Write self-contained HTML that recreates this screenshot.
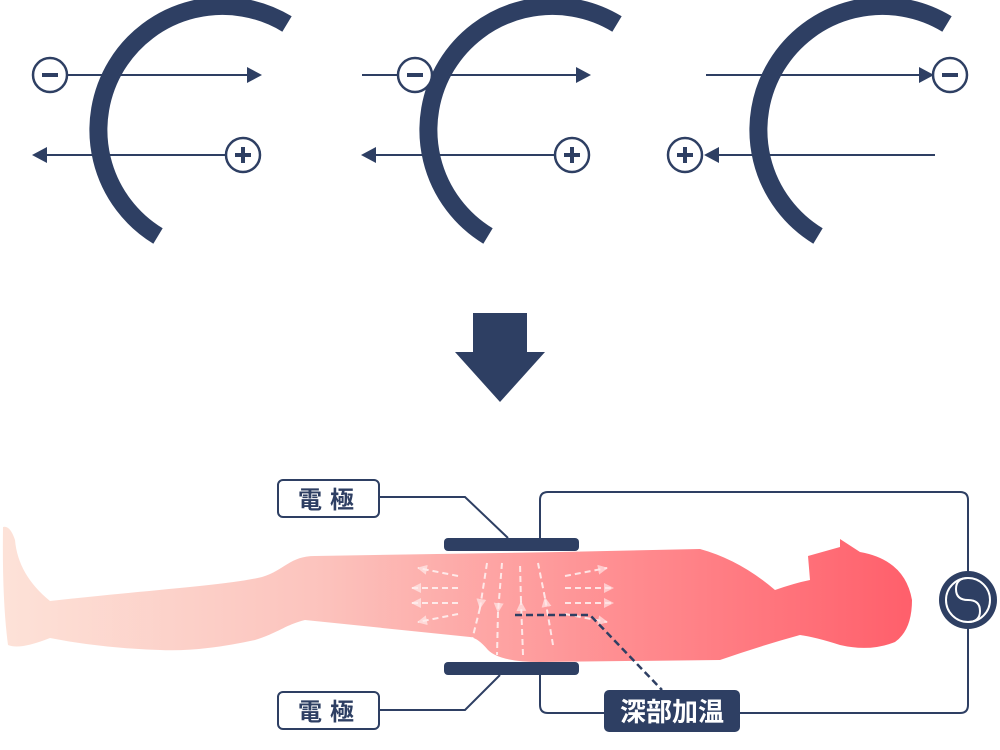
<!DOCTYPE html>
<html><head><meta charset="utf-8"><style>
html,body{margin:0;padding:0;background:#fff;width:1000px;height:750px;overflow:hidden}
svg{display:block}
text{font-family:"Liberation Sans","Noto Sans CJK JP",sans-serif;font-weight:bold}
</style></head><body>
<svg width="1000" height="750" viewBox="0 0 1000 750" xmlns="http://www.w3.org/2000/svg">
<defs>
<linearGradient id="bg" x1="0" x2="1" y1="0" y2="0">
<stop offset="0" stop-color="#fde2d8"/><stop offset="0.35" stop-color="#fcc3bd"/><stop offset="0.7" stop-color="#ff8a8e"/><stop offset="1" stop-color="#ff5f6b"/>
</linearGradient>
<marker id="ah" markerWidth="10" markerHeight="10" refX="9" refY="5" orient="auto" markerUnits="userSpaceOnUse"><path d="M0,0 L10,5 L0,10 z" fill="#fff" opacity="0.7"/></marker>
<g id="arc"><path d="M287,24 A123,123 0 1 0 158,236" fill="none" stroke="#2e3f63" stroke-width="18"/></g>
</defs>
<g stroke="#2e3f63" stroke-width="2" fill="none">
<line x1="67" y1="75" x2="248" y2="75"/><line x1="46" y1="155" x2="226" y2="155"/>
<line x1="362" y1="75" x2="576" y2="75"/><line x1="376" y1="155" x2="555" y2="155"/>
<line x1="706" y1="75" x2="922" y2="75"/><line x1="718" y1="155" x2="935" y2="155"/>
</g>
<g fill="#2e3f63">
<path d="M262,75 L247,67 L247,83z"/><path d="M32,155 L47,147 L47,163z"/>
<path d="M591,75 L576,67 L576,83z"/><path d="M361,155 L376,147 L376,163z"/>
<path d="M934,75 L919,67 L919,83z"/><path d="M704,155 L719,147 L719,163z"/>
</g>
<use href="#arc"/><use href="#arc" x="330"/><use href="#arc" x="660"/>
<g fill="#fff" stroke="#2e3f63" stroke-width="2.5">
<circle cx="50" cy="75" r="17"/><circle cx="243" cy="155" r="17"/>
<circle cx="415" cy="75" r="17"/><circle cx="572" cy="155" r="17"/>
<circle cx="950" cy="75" r="17"/><circle cx="685" cy="155" r="17"/>
</g>
<g stroke="#2e3f63" stroke-width="4">
<line x1="42" y1="75" x2="58" y2="75"/><line x1="407" y1="75" x2="423" y2="75"/><line x1="942" y1="75" x2="958" y2="75"/>
<line x1="235" y1="155" x2="251" y2="155"/><line x1="243" y1="147" x2="243" y2="163"/>
<line x1="564" y1="155" x2="580" y2="155"/><line x1="572" y1="147" x2="572" y2="163"/>
<line x1="677" y1="155" x2="693" y2="155"/><line x1="685" y1="147" x2="685" y2="163"/>
</g>
<path d="M473,313 H527 V352 H545 L500,402 L455,352 H473z" fill="#2e3f63"/>
<path d="M3,527 Q10,525 15,540 Q18,575 50,601 C150,590 230,585 262,577 C285,570 290,556 315,556 L560,552 L700,549 Q740,560 775,590 Q795,583 810,580 L808,556 L840,547 L840,539 L860,552 Q905,560 912,600 Q912,630 895,642 Q870,652 840,645 Q815,637 800,635 Q760,646 720,660 L540,662 Q500,662 488,650 Q478,638 470,637 L305,620 C285,625 280,632 255,640 Q200,652 160,650 Q100,648 50,638 Q20,650 8,645 Q2,600 3,527z" fill="url(#bg)"/>
<g stroke="#fff" stroke-width="2" stroke-dasharray="6,4" opacity="0.75" fill="none" marker-end="url(#ah)">
<line x1="458" y1="576" x2="418" y2="568"/><line x1="458" y1="588" x2="412" y2="588"/><line x1="458" y1="603" x2="412" y2="603"/><line x1="458" y1="614" x2="418" y2="622"/>
<line x1="565" y1="576" x2="607" y2="568"/><line x1="565" y1="588" x2="613" y2="588"/><line x1="565" y1="603" x2="613" y2="603"/><line x1="565" y1="614" x2="607" y2="622"/>
<line x1="487" y1="563" x2="480" y2="608"/><line x1="502" y1="563" x2="498" y2="612"/>
<line x1="523" y1="655" x2="521" y2="602"/><line x1="553" y1="645" x2="545" y2="598"/>
</g>
<g stroke="#fff" stroke-width="2" stroke-dasharray="6,4" opacity="0.75" fill="none">
<line x1="480" y1="608" x2="472" y2="640"/><line x1="498" y1="612" x2="497" y2="655"/>
<line x1="521" y1="602" x2="520" y2="563"/><line x1="545" y1="598" x2="538" y2="563"/>
</g>
<path d="M515,615 H590 L662,690" fill="none" stroke="#2e3f63" stroke-width="2.5" stroke-dasharray="7,4"/>
<path d="M540,538 V500 Q540,492 548,492 H960 Q968,492 968,500 V705 Q968,713 960,713 H548 Q540,713 540,705 V675" fill="none" stroke="#2e3f63" stroke-width="2"/>
<circle cx="968" cy="600" r="29" fill="#2e3f63"/>
<circle cx="968" cy="600" r="22" fill="none" stroke="#fff" stroke-width="2"/>
<path d="M968,578 Q956,578 956,589 Q956,600 968,600 Q980,600 980,611 Q980,622 968,622" fill="none" stroke="#fff" stroke-width="2"/>
<rect x="444" y="538" width="135" height="13" rx="4" fill="#2e3f63"/>
<rect x="444" y="662" width="135" height="13" rx="4" fill="#2e3f63"/>
<path d="M379,497 H465 L508,538" fill="none" stroke="#2e3f63" stroke-width="2"/>
<path d="M379,710 H465 L500,675" fill="none" stroke="#2e3f63" stroke-width="2"/>
<rect x="278" y="480" width="101" height="37" rx="5" fill="#fff" stroke="#2e3f63" stroke-width="2"/>
<rect x="278" y="692" width="101" height="37" rx="5" fill="#fff" stroke="#2e3f63" stroke-width="2"/>
<text x="330" y="508" font-size="24" fill="#2e3f63" text-anchor="middle" letter-spacing="8">電極</text>
<text x="330" y="720" font-size="24" fill="#2e3f63" text-anchor="middle" letter-spacing="8">電極</text>
<rect x="604" y="690" width="136" height="42" rx="5" fill="#2e3f63"/>
<text x="672" y="721" font-size="26" fill="#fff" text-anchor="middle">深部加温</text>
</svg>
</body></html>
